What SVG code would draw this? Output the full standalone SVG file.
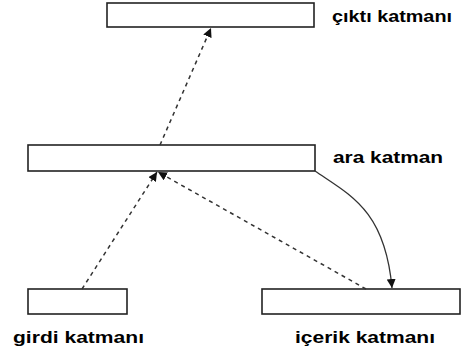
<svg xmlns="http://www.w3.org/2000/svg" width="462" height="356" viewBox="0 0 462 356">
  <style>
    .box { fill: #ffffff; stroke: #222222; stroke-width: 1.6; }
    .lbl { font-family: "Liberation Sans", Arial, sans-serif; font-weight: bold; font-size: 16.5px; fill: #000000; }
    .dash { fill: none; stroke: #333333; stroke-width: 1.5; stroke-dasharray: 4 4; }
    .solid { fill: none; stroke: #333333; stroke-width: 1.3; }
  </style>
  <defs>
    <marker id="head" viewBox="0 0 10 10" refX="10" refY="5" markerWidth="9" markerHeight="9" markerUnits="userSpaceOnUse" orient="auto">
      <path d="M0,0 L10,5 L0,10 z" fill="#111111"/>
    </marker>
  </defs>
  <rect width="462" height="356" fill="#ffffff"/>

  <g id="output-layer">
    <rect class="box" x="107" y="3" width="207" height="24"/>
    <text class="lbl" x="332" y="22" textLength="120" lengthAdjust="spacingAndGlyphs">çıktı katmanı</text>
  </g>

  <g id="hidden-layer">
    <rect class="box" x="28" y="145" width="287" height="26"/>
    <text class="lbl" x="333" y="163" textLength="110" lengthAdjust="spacingAndGlyphs">ara katman</text>
  </g>

  <g id="input-layer">
    <rect class="box" x="28" y="289" width="99" height="25"/>
    <text class="lbl" x="13" y="343" textLength="131" lengthAdjust="spacingAndGlyphs">girdi katmanı</text>
  </g>

  <g id="context-layer">
    <rect class="box" x="262" y="289" width="198" height="25"/>
    <text class="lbl" x="295" y="343" textLength="140" lengthAdjust="spacingAndGlyphs">içerik katmanı</text>
  </g>

  <g id="connectors">
    <path class="dash" d="M82,289 L157,172" marker-end="url(#head)"/>
    <path class="dash" d="M366,289 L158,172" marker-end="url(#head)"/>
    <path class="dash" d="M160,145 L211,28" marker-end="url(#head)"/>
    <path class="solid" d="M315,171 C350,195 385,210 392,288" marker-end="url(#head)"/>
  </g>
</svg>
